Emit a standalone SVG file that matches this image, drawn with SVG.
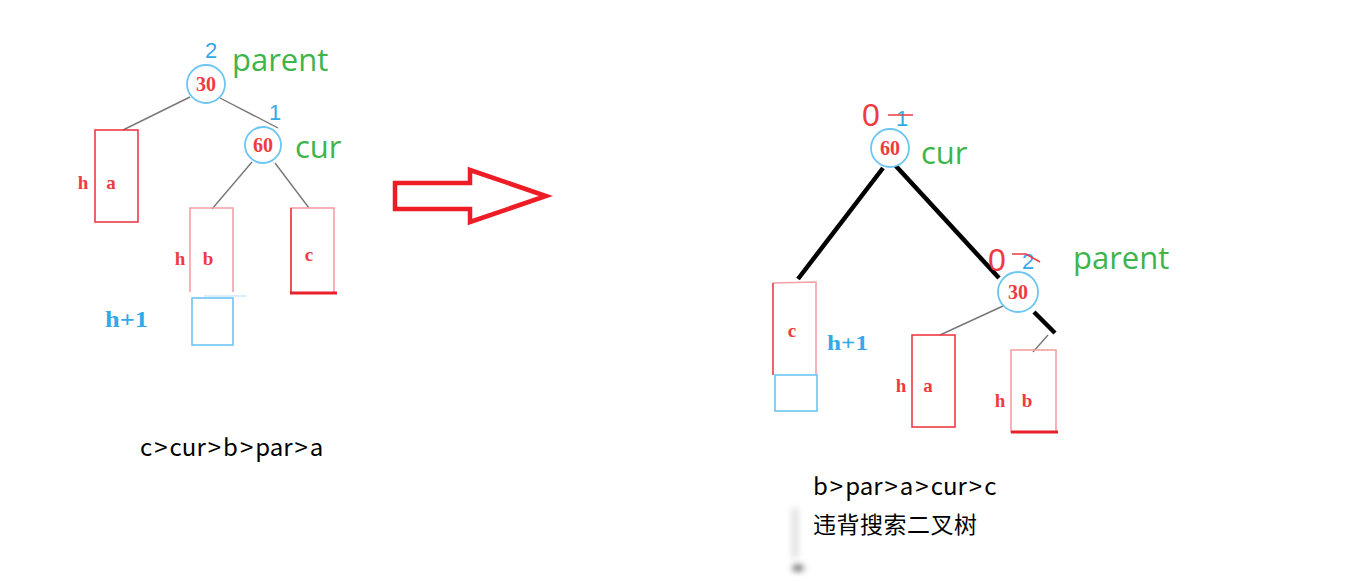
<svg xmlns="http://www.w3.org/2000/svg" width="1346" height="581" viewBox="0 0 1346 581">
<defs>
<filter id="blur" x="-1" y="-1" width="3" height="3"><feGaussianBlur stdDeviation="3"/></filter>
</defs>
<style>
.circ{fill:#fff;stroke:#6cc6f2;stroke-width:1.8}
.num{font-family:"Liberation Serif",serif;font-weight:bold;font-size:20px;fill:#ee3b43;text-anchor:middle}
.lbl{font-family:"Liberation Serif",serif;font-weight:bold;font-size:19px;fill:#ee3b43;text-anchor:middle}
.green{font-family:"Open Sans","Noto Sans",sans-serif;font-size:31px;fill:#3db54a}
.bal{font-family:"Liberation Sans",sans-serif;font-size:22px;fill:#35a8e8}
.hp1{font-family:"Liberation Serif",serif;font-weight:bold;font-size:23px;fill:#35a8e8}
.box{fill:none;stroke:#ee3b43;stroke-width:1.6}
.pbox{fill:none;stroke:#f4a0a6;stroke-width:1.6}
.bbox{fill:none;stroke:#6cc6f2;stroke-width:1.6}
.thin{stroke:#777;stroke-width:1.4;fill:none}
.thick{stroke:#000;stroke-width:4.5;fill:none}
.red0{font-family:"Liberation Sans",sans-serif;font-size:32px;fill:#ee3b43}
.txt{font-family:"Noto Sans CJK SC","Liberation Sans",sans-serif;font-size:24px;fill:#000}
</style>

<g id="connectors">
  <line class="thin" x1="190" y1="97" x2="123" y2="130"/>
  <line class="thin" x1="220" y1="98" x2="278" y2="128"/>
  <line class="thin" x1="252" y1="162" x2="212" y2="209"/>
  <line class="thin" x1="275" y1="163" x2="309" y2="208"/>
  <line class="thin" x1="1003" y1="306" x2="940" y2="335"/>
  <line class="thin" x1="1048" y1="335" x2="1033" y2="352"/>
  <line class="thick" x1="883" y1="168" x2="798" y2="279"/>
  <line class="thick" x1="895" y1="165" x2="999" y2="278"/>
  <line class="thick" x1="1034" y1="312" x2="1055" y2="333"/>
</g>

<g id="left-tree">
  <g id="l-node30">
    <circle class="circ" cx="206" cy="84" r="19"/>
    <text class="num" x="206" y="91">30</text>
    <text class="bal" x="211" y="58" text-anchor="middle">2</text>
    <text class="green" x="232" y="71">parent</text>
  </g>
  <g id="l-node60">
    <circle class="circ" cx="263" cy="145" r="18"/>
    <text class="num" x="263" y="152">60</text>
    <text class="bal" x="275" y="120" text-anchor="middle">1</text>
    <text class="green" x="295" y="158">cur</text>
  </g>
  <g id="l-box-a">
    <rect class="box" x="95" y="130" width="43" height="92"/>
    <text class="lbl" x="83" y="189">h</text>
    <text class="lbl" x="111" y="189">a</text>
  </g>
  <g id="l-box-b">
    <path class="pbox" d="M190 292 V208 H233 V292"/>
    <text class="lbl" x="180" y="265">h</text>
    <text class="lbl" x="208" y="265">b</text>
  </g>
  <g id="l-box-h1">
    <line x1="204" y1="296" x2="246" y2="296" stroke="#cfe9f8" stroke-width="1.4"/>
    <rect class="bbox" x="192" y="298" width="41" height="47"/>
    <text class="hp1" x="105" y="327" textLength="43" lengthAdjust="spacingAndGlyphs">h+1</text>
  </g>
  <g id="l-box-c">
    <rect class="pbox" x="291" y="208" width="43" height="85"/>
    <path d="M291 208 V293" stroke="#ee3b43" stroke-width="1.6"/>
    <line x1="290" y1="293" x2="337" y2="293" stroke="#e8202a" stroke-width="3.2"/>
    <text class="lbl" x="309" y="261">c</text>
  </g>
  <text class="txt" x="140" y="456">c<tspan dx="2">&gt;</tspan><tspan dx="2">cur</tspan><tspan dx="2">&gt;</tspan><tspan dx="2">b</tspan><tspan dx="2">&gt;</tspan><tspan dx="2">par</tspan><tspan dx="2">&gt;</tspan><tspan dx="2">a</tspan></text>
</g>

<g id="arrow">
  <polygon points="395,183 470,183 470,170 546,196 470,222 470,209 395,209" fill="#fff" stroke="#ee1c25" stroke-width="4.5" stroke-linejoin="miter"/>
</g>

<g id="right-tree">
  <g id="r-node60">
    <circle class="circ" cx="890" cy="148" r="19"/>
    <text class="num" x="890" y="155">60</text>
    <text class="red0" x="862" y="126">0</text>
    <text class="bal" x="902" y="126" text-anchor="middle">1</text>
    <line x1="888" y1="115" x2="913" y2="115" stroke="#ee3b43" stroke-width="1.5"/>
    <text class="green" x="921" y="164">cur</text>
  </g>
  <g id="r-node30">
    <circle class="circ" cx="1018" cy="292" r="20"/>
    <text class="num" x="1018" y="299">30</text>
    <text class="red0" x="988" y="271">0</text>
    <text class="bal" x="1028" y="269" text-anchor="middle">2</text>
    <path d="M1012 254 L1026 254 L1040 262" stroke="#ee3b43" stroke-width="1.5" fill="none"/>
    <text class="green" x="1073" y="269">parent</text>
  </g>
  <g id="r-box-c">
    <path class="pbox" d="M773 283 L816 282 V375"/>
    <path d="M773 283 V375" stroke="#ee3b43" stroke-width="1.6"/>
    <rect class="bbox" x="775" y="375" width="42" height="36"/>
    <text class="lbl" x="792" y="337">c</text>
    <text class="hp1" x="827" y="350" style="font-size:20px" textLength="41" lengthAdjust="spacingAndGlyphs">h+1</text>
  </g>
  <g id="r-box-a">
    <rect class="box" x="912" y="335" width="43" height="92"/>
    <text class="lbl" x="901" y="392">h</text>
    <text class="lbl" x="928" y="392">a</text>
  </g>
  <g id="r-box-b">
    <rect class="pbox" x="1011" y="350" width="45" height="82"/>
    <line x1="1011" y1="432" x2="1058" y2="432" stroke="#e8202a" stroke-width="3"/>
    <text class="lbl" x="1000" y="407">h</text>
    <text class="lbl" x="1027" y="407">b</text>
  </g>
  <text class="txt" x="813" y="495">b<tspan dx="2">&gt;</tspan><tspan dx="2">par</tspan><tspan dx="2">&gt;</tspan><tspan dx="2">a</tspan><tspan dx="2">&gt;</tspan><tspan dx="2">cur</tspan><tspan dx="2">&gt;</tspan><tspan dx="2">c</tspan></text>
  <text class="txt" x="813" y="533" style="font-size:23px" textLength="164">违背搜索二叉树</text>
  <rect x="792" y="508" width="6" height="50" fill="#ddd" filter="url(#blur)"/>
  <ellipse cx="798" cy="568" rx="6" ry="3" fill="#555" filter="url(#blur)"/>
</g>
</svg>
